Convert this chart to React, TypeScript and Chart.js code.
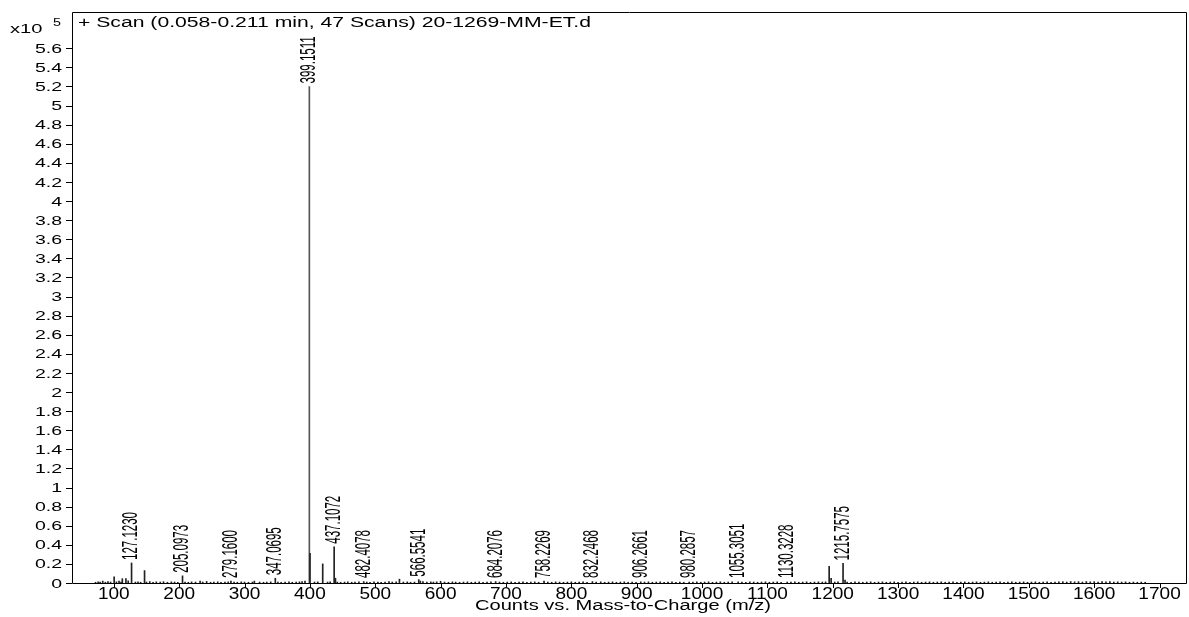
import { useEffect, useRef } from "react";
import { Chart, registerables } from "chart.js";

Chart.register(...registerables);

// ---- data (intensities in units of 10^5 counts) ----
const mainPeaks: [number, number][] = [
  [83, 0.02], [100.5, 0.065], [113, 0.045], [118.5, 0.045], [122, 0.022],
  [127.123, 0.21], [147.0, 0.13], [205.0973, 0.075], [232, 0.02], [279.16, 0.02],
  [315, 0.02], [347.0695, 0.05], [392.5, 0.02], [399.1511, 5.2], [400.15, 0.31],
  [419.6, 0.2], [437.1072, 0.38], [439.1, 0.05], [482.4078, 0.015], [537.0, 0.04],
  [566.5541, 0.035], [684.2076, 0.015], [758.2269, 0.02], [832.2468, 0.015],
  [906.2661, 0.012], [980.2857, 0.01], [1055.3051, 0.012], [1130.3228, 0.01],
  [1194.5, 0.175], [1197.5, 0.05], [1215.7575, 0.205], [1218.8, 0.03],
];

const noisePeaks: [number, number][] = [
  [72, 0.008], [76, 0.012], [79, 0.01], [87, 0.008], [91, 0.015], [95, 0.01], [104, 0.012],
  [108, 0.02], [111, 0.01], [133, 0.01], [137, 0.012], [141, 0.008], [150, 0.01], [155, 0.015],
  [160, 0.008], [165, 0.012], [171, 0.01], [176, 0.014], [182, 0.008], [188, 0.012], [193, 0.01],
  [198, 0.008], [209, 0.01], [214, 0.008], [219, 0.012], [225, 0.01], [236, 0.01], [242, 0.016],
  [248, 0.008], [253, 0.01], [259, 0.012], [264, 0.008], [270, 0.01], [275, 0.012], [284, 0.01],
  [289, 0.008], [295, 0.012], [300, 0.01], [306, 0.008], [312, 0.01], [323, 0.01], [329, 0.008],
  [334, 0.01], [340, 0.012], [351, 0.01], [356, 0.008], [362, 0.01], [368, 0.012], [373, 0.008],
  [379, 0.01], [384, 0.012], [388, 0.015], [407, 0.01], [412, 0.012], [427, 0.01], [431, 0.012],
  [442, 0.01], [447, 0.008], [453, 0.01], [458, 0.012], [464, 0.008], [469, 0.01], [475, 0.012],
  [487, 0.01], [492, 0.008], [498, 0.012], [504, 0.01], [509, 0.008], [515, 0.01], [521, 0.015],
  [526, 0.01], [532, 0.012], [543, 0.01], [549, 0.012], [554, 0.008], [560, 0.01], [569, 0.02],
  [573, 0.015], [579, 0.01], [585, 0.012], [589, 0.01], [594, 0.012], [600, 0.018], [606, 0.01],
  [612, 0.008], [618, 0.012], [623, 0.01], [629, 0.008], [635, 0.01], [641, 0.012], [647, 0.008],
  [653, 0.01], [659, 0.012], [665, 0.008], [671, 0.01], [677, 0.012], [690, 0.01], [696, 0.008],
  [702, 0.01], [708, 0.012], [714, 0.008], [720, 0.01], [726, 0.012], [732, 0.008], [738, 0.01],
  [744, 0.012], [750, 0.008], [764, 0.01], [770, 0.008], [776, 0.012], [782, 0.01], [788, 0.008],
  [794, 0.01], [800, 0.012], [806, 0.008], [812, 0.01], [818, 0.012], [824, 0.008], [838, 0.01],
  [845, 0.012], [851, 0.008], [857, 0.01], [863, 0.012], [869, 0.008], [875, 0.01], [881, 0.012],
  [887, 0.008], [893, 0.01], [899, 0.008], [912, 0.01], [918, 0.012], [924, 0.008], [930, 0.01],
  [936, 0.012], [942, 0.008], [948, 0.01], [954, 0.012], [960, 0.008], [966, 0.01], [972, 0.008],
  [986, 0.01], [992, 0.012], [998, 0.008], [1004, 0.01], [1010, 0.012], [1016, 0.008], [1022, 0.01],
  [1028, 0.012], [1034, 0.008], [1040, 0.01], [1046, 0.012], [1061, 0.01], [1067, 0.008],
  [1073, 0.012], [1079, 0.01], [1085, 0.008], [1091, 0.01], [1097, 0.012], [1103, 0.008],
  [1109, 0.01], [1115, 0.012], [1121, 0.008], [1136, 0.01], [1142, 0.012], [1148, 0.008],
  [1154, 0.01], [1160, 0.012], [1166, 0.008], [1172, 0.01], [1178, 0.012], [1184, 0.01],
  [1189, 0.012], [1203, 0.01], [1208, 0.012], [1222, 0.01], [1228, 0.008], [1234, 0.012],
  [1240, 0.01], [1246, 0.008], [1252, 0.01], [1258, 0.012], [1264, 0.008], [1270, 0.01],
  [1276, 0.012], [1282, 0.008], [1288, 0.01], [1294, 0.012], [1300, 0.008], [1306, 0.01],
  [1312, 0.012], [1318, 0.008], [1324, 0.01], [1330, 0.012], [1336, 0.008], [1342, 0.01],
  [1348, 0.012], [1354, 0.008], [1360, 0.01], [1366, 0.012], [1372, 0.008], [1378, 0.01],
  [1384, 0.012], [1390, 0.008], [1396, 0.01], [1402, 0.012], [1408, 0.008], [1414, 0.01],
  [1420, 0.012], [1426, 0.008], [1432, 0.01], [1438, 0.012], [1444, 0.008], [1450, 0.01],
  [1456, 0.012], [1462, 0.008], [1468, 0.01], [1474, 0.012], [1480, 0.008], [1486, 0.01],
  [1492, 0.012], [1498, 0.008], [1504, 0.01], [1510, 0.012], [1516, 0.008], [1522, 0.01],
  [1528, 0.012], [1534, 0.008], [1540, 0.01], [1546, 0.012], [1552, 0.014], [1558, 0.01],
  [1564, 0.015], [1570, 0.012], [1576, 0.014], [1582, 0.01], [1588, 0.015], [1594, 0.012],
  [1600, 0.014], [1606, 0.01], [1612, 0.015], [1618, 0.012], [1624, 0.014], [1630, 0.01],
  [1636, 0.012], [1642, 0.01], [1648, 0.012], [1654, 0.008], [1660, 0.01], [1666, 0.008],
  [1672, 0.01], [1678, 0.008],
];

const labelMz = [
  127.123, 205.0973, 279.16, 347.0695, 399.1511, 437.1072, 482.4078, 566.5541,
  684.2076, 758.2269, 832.2468, 906.2661, 980.2857, 1055.3051, 1130.3228, 1215.7575,
];
const labelText = [
  "127.1230", "205.0973", "279.1600", "347.0695", "399.1511", "437.1072", "482.4078", "566.5541",
  "684.2076", "758.2269", "832.2468", "906.2661", "980.2857", "1055.3051", "1130.3228", "1215.7575",
];

const xTicks = [100, 200, 300, 400, 500, 600, 700, 800, 900, 1000, 1100, 1200, 1300, 1400, 1500, 1600, 1700];
const yTicks = [
  0, 0.2, 0.4, 0.6, 0.8, 1, 1.2, 1.4, 1.6, 1.8, 2, 2.2, 2.4, 2.6, 2.8, 3, 3.2, 3.4, 3.6, 3.8,
  4, 4.2, 4.4, 4.6, 4.8, 5, 5.2, 5.4, 5.6,
];

const titleText = "+ Scan (0.058-0.211 min, 47 Scans) 20-1269-MM-ET.d";
const xTitle = "Counts vs. Mass-to-Charge (m/z)";

const FAMILY = "'Liberation Sans', Arial, Helvetica, sans-serif";

function drawText(
  ctx: CanvasRenderingContext2D, text: string, x: number, y: number,
  size: number, sx: number, align: CanvasTextAlign, baseline: CanvasTextBaseline,
) {
  ctx.save();
  ctx.translate(x, y);
  ctx.scale(sx, 1);
  ctx.font = `${size}px ${FAMILY}`;
  ctx.textAlign = align;
  ctx.textBaseline = baseline;
  ctx.fillStyle = "#000";
  ctx.fillText(text, 0, 0);
  ctx.restore();
}

function drawFit(
  ctx: CanvasRenderingContext2D, text: string, x: number, y: number,
  size: number, width: number, baseline: CanvasTextBaseline,
) {
  ctx.save();
  ctx.font = `${size}px ${FAMILY}`;
  const w = ctx.measureText(text).width;
  ctx.restore();
  drawText(ctx, text, x, y, size, width / w, "left", baseline);
}

const decorPlugin = {
  id: "decor",
  afterDatasetsDraw(chart: any) {
    const ctx: CanvasRenderingContext2D = chart.ctx;
    const { left, right, top, bottom } = chart.chartArea;
    const xs = chart.scales.x;
    const ys = chart.scales.y;
    ctx.save();
    // frame
    ctx.strokeStyle = "#000";
    ctx.lineWidth = 1;
    ctx.beginPath();
    ctx.moveTo(left + 0.5, top + 0.5);
    ctx.lineTo(right - 0.5, top + 0.5);
    ctx.lineTo(right - 0.5, bottom + 0.5);
    ctx.lineTo(left + 0.5, bottom + 0.5);
    ctx.closePath();
    ctx.stroke();

    // y ticks
    ctx.beginPath();
    yTicks.forEach((v) => {
      const y = Math.round(ys.getPixelForValue(v)) + 0.5;
      ctx.moveTo(left - 6, y);
      ctx.lineTo(left, y);
    });
    // x ticks
    xTicks.forEach((v) => {
      const x = Math.round(xs.getPixelForValue(v)) + 0.5;
      ctx.moveTo(x, bottom + 1);
      ctx.lineTo(x, bottom + 5);
    });
    ctx.stroke();

    yTicks.forEach((v) => {
      const y = ys.getPixelForValue(v);
      drawText(ctx, String(Math.round(v * 10) / 10), left - 10, y + 1, 13, 1.5, "right", "middle");
    });
    xTicks.forEach((v) => {
      const x = xs.getPixelForValue(v);
      drawText(ctx, String(v), x, bottom + 11, 17, 1.12, "center", "middle");
    });

    // x10^5
    drawText(ctx, "x10", 10, 29, 13, 1.55, "left", "middle");
    drawText(ctx, "5", 53, 23, 11, 1.3, "left", "middle");

    // title and axis title
    drawFit(ctx, titleText, 78, 23, 14, 513, "middle");
    drawFit(ctx, xTitle, 475, 606, 14, 296, "middle");

    // peak labels (rotated, reading upward)
    const meta = chart.getDatasetMeta(0);
    labelMz.forEach((mz, i) => {
      const idx = mainPeaks.findIndex((p) => p[0] === mz);
      const el = meta.data[idx];
      if (!el) return;
      ctx.save();
      ctx.translate(el.x, Math.min(el.y - 3, bottom - 5));
      ctx.rotate(-Math.PI / 2);
      ctx.scale(1, 1.85);
      ctx.font = `11.5px ${FAMILY}`;
      ctx.textAlign = "left";
      ctx.textBaseline = "middle";
      ctx.fillStyle = "#000";
      ctx.fillText(labelText[i], 0, 0);
      ctx.restore();
    });
    ctx.restore();
  },
};

export default function App() {
  const ref = useRef<HTMLCanvasElement | null>(null);
  useEffect(() => {
    if (!ref.current) return;
    const all = [...mainPeaks, ...noisePeaks];
    const chart = new Chart(ref.current, {
      type: "bar",
      data: {
        datasets: [
          {
            data: all.map(([x, y]) => ({ x, y })),
            backgroundColor: all.map(([, y]) => (y > 1 ? "#555" : "#222")),
            borderWidth: 0,
            barThickness: 1,
          } as any,
        ],
      },
      options: {
        animation: false,
        responsive: false,
        devicePixelRatio: 1,
        layout: { padding: { left: 72, top: 12, right: 2, bottom: 34 } },
        plugins: { legend: { display: false }, tooltip: { enabled: false }, title: { display: false } },
        scales: {
          x: { type: "linear", min: 36, max: 1742, display: false, offset: false },
          y: { type: "linear", min: 0, max: 5.98, display: false },
        },
      },
      plugins: [decorPlugin],
    });
    return () => chart.destroy();
  }, []);
  return (
    <div style={{ position: "fixed", left: 0, top: 0, width: 1189, height: 617, background: "#fff" }}>
      <canvas ref={ref} width={1189} height={617} />
    </div>
  );
}
